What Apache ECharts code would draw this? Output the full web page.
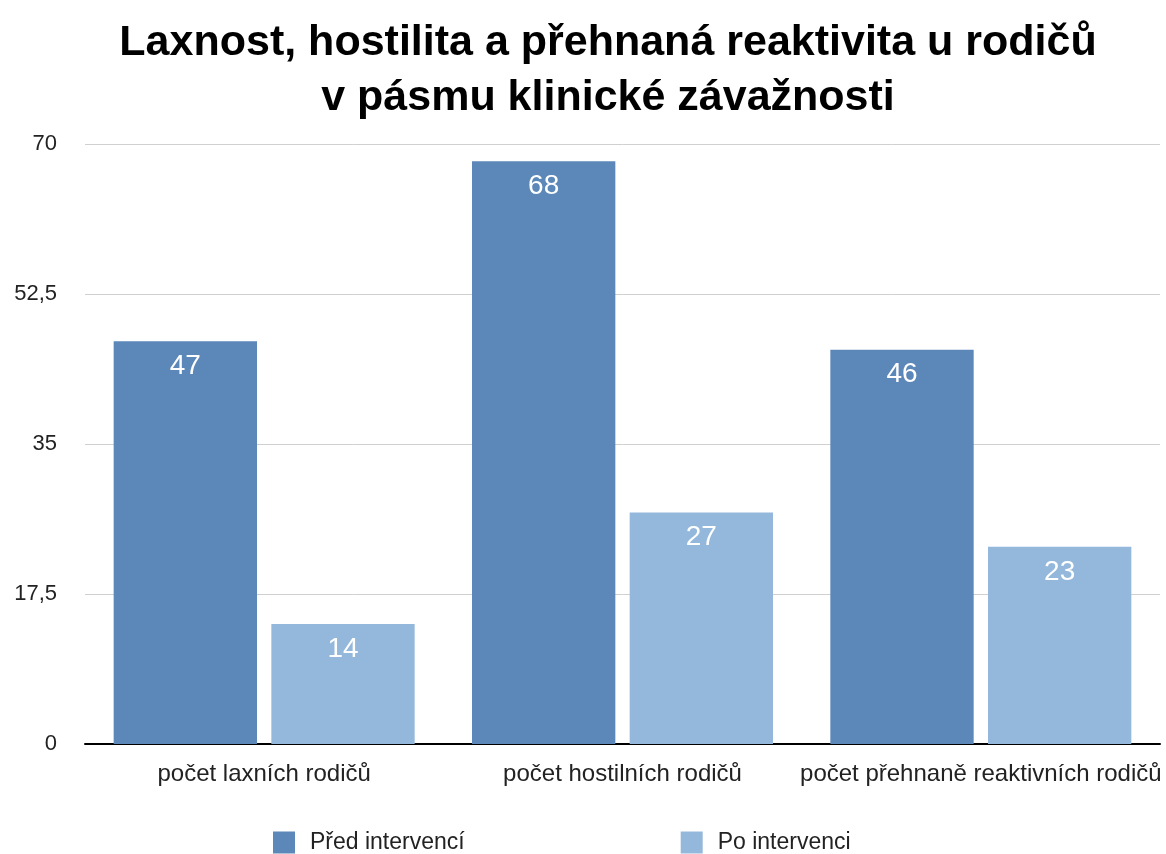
<!DOCTYPE html>
<html><head><meta charset="utf-8">
<script src="https://cdn.jsdelivr.net/npm/echarts@6/dist/echarts.min.js"></script>
<style>html,body{margin:0;padding:0;background:#fff}#c{width:1166px;height:854px}</style>
</head><body><div id="c"></div>
<script>
var categories = ['počet laxních rodičů', 'počet hostilních rodičů', 'počet přehnaně reaktivních rodičů'];
var seriesNames = ['Před intervencí', 'Po intervenci'];
var before = [47, 68, 46];
var after = [14, 27, 23];
var yTicks = [0, 17.5, 35, 52.5, 70];

var font = '"Liberation Sans", Arial, Helvetica, sans-serif';
var chart = echarts.init(document.getElementById('c'));
chart.setOption({
  backgroundColor: '#fff',
  animation: false,
  title: {
    text: 'Laxnost, hostilita a přehnaná reaktivita u rodičů\nv pásmu klinické závažnosti',
    left: 603, top: 11, textAlign: 'center',
    textStyle: { fontFamily: font, fontSize: 43, fontWeight: 'bold', color: '#000', lineHeight: 55 }
  },
  legend: {
    top: 831, left: 273, itemGap: 216, padding: 0,
    itemWidth: 22, itemHeight: 22, icon: 'rect',
    textStyle: { fontFamily: font, fontSize: 23, color: '#222', padding: [0, 0, 0, 10] },
    data: seriesNames
  },
  grid: { left: 85, right: 6, top: 144, bottom: 110 },
  xAxis: {
    type: 'category', data: categories,
    axisLine: { lineStyle: { color: '#000', width: 2 } },
    axisTick: { show: false },
    axisLabel: { fontFamily: font, fontSize: 24, color: '#222', margin: 18, interval: 0 }
  },
  yAxis: {
    type: 'value', min: yTicks[0], max: yTicks[yTicks.length - 1], interval: yTicks[1] - yTicks[0],
    axisLine: { show: false }, axisTick: { show: false },
    splitLine: { lineStyle: { color: '#d0d0d0', width: 1 } },
    axisLabel: { fontFamily: font, fontSize: 22, color: '#222', margin: 28,
      formatter: function (v) { return String(v).replace('.', ','); } }
  },
  series: [
    { name: seriesNames[0], type: 'bar', data: before, barGap: '10%', barCategoryGap: '16%',
      itemStyle: { color: '#5b87b9' },
      label: { show: true, position: 'insideTop', distance: 11, color: '#fff', fontFamily: font, fontSize: 28 } },
    { name: seriesNames[1], type: 'bar', data: after,
      itemStyle: { color: '#94b8db' },
      label: { show: true, position: 'insideTop', distance: 11, color: '#fff', fontFamily: font, fontSize: 28 } }
  ]
});
</script></body></html>
